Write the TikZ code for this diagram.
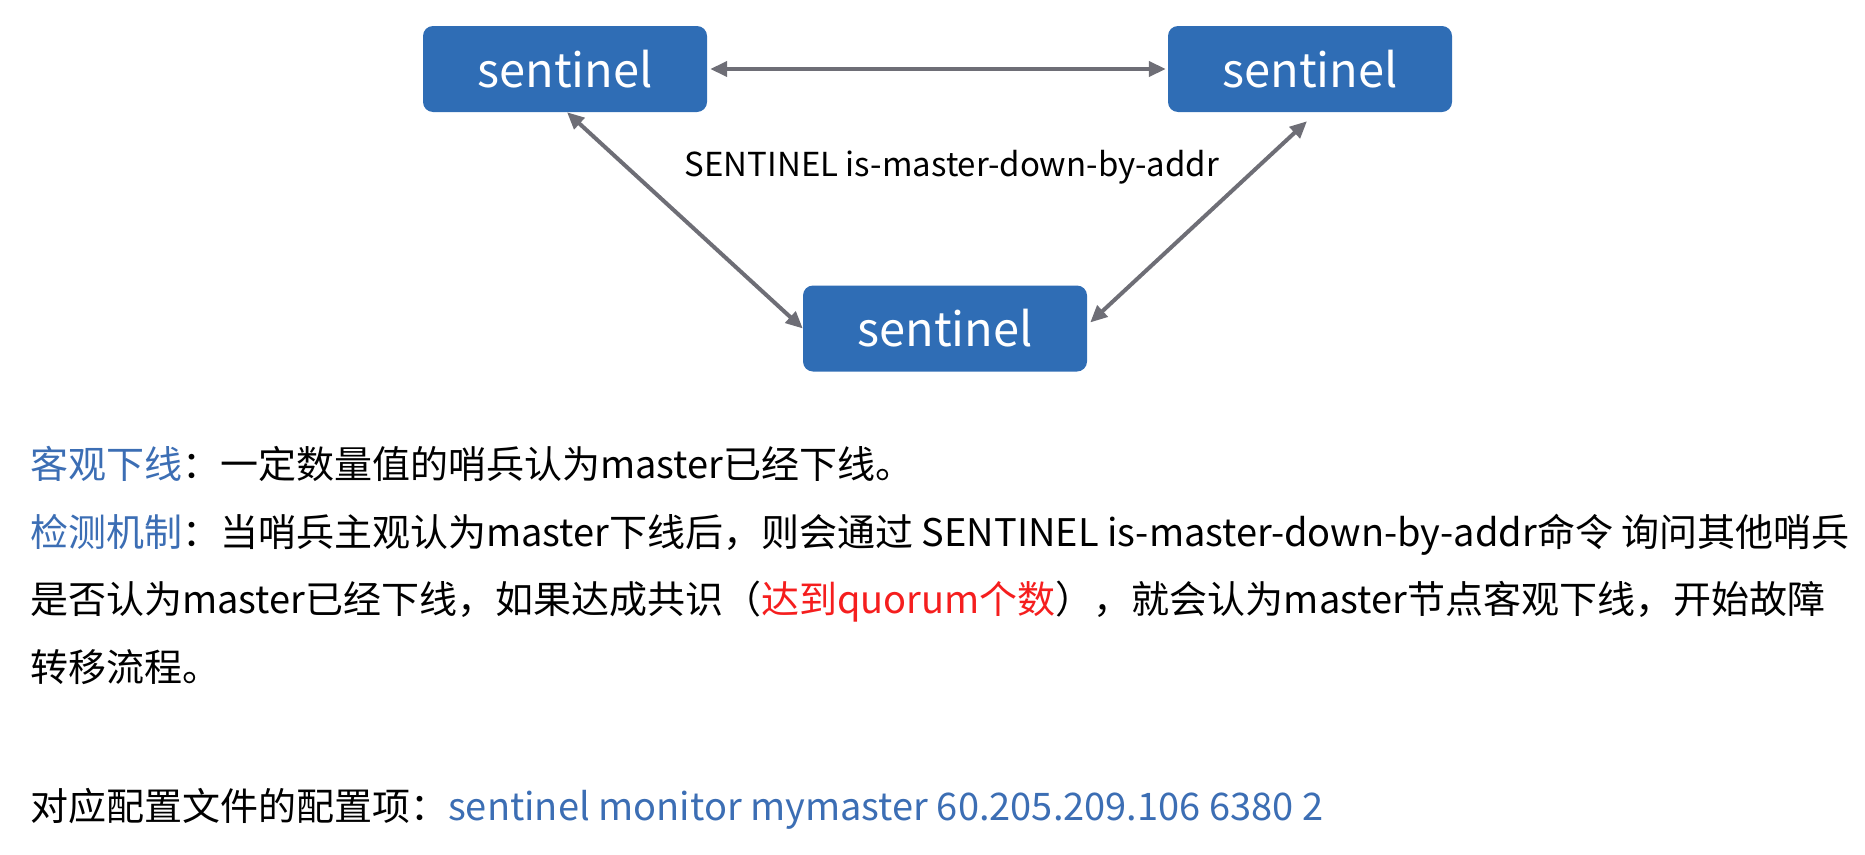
\documentclass[tikz,border=0pt]{standalone}
\usepackage{fontspec}
\setmainfont{Noto Sans CJK SC}
\usetikzlibrary{arrows.meta}

\definecolor{boxblue}{RGB}{47,109,181}
\definecolor{txtblue}{RGB}{60,110,180}
\definecolor{linkgray}{RGB}{110,110,118}
\definecolor{hotred}{RGB}{245,30,30}

\tikzset{
  sentbox/.style={fill=boxblue, rounded corners=10pt, inner sep=0pt,
    minimum width=284pt, minimum height=86pt, text=white,
    font=\fontsize{47}{54}\selectfont},
  link/.style={linkgray, line width=4pt,
    {Triangle[length=17pt,width=15pt]}-{Triangle[length=17pt,width=15pt]}},
  txt/.style={inner sep=0pt, font=\fontsize{38}{45}\selectfont},
  para/.style={txt, anchor=base west}
}

\begin{document}
\begin{tikzpicture}[x=1pt,y=-1pt]
  \useasboundingbox (0,0) rectangle (1865,854);

  % the three sentinels
  \node[sentbox] (s1) at (565,69) {sentinel};
  \node[sentbox] (s2) at (1310,69) {sentinel};
  \node[sentbox] (s3) at (945,328.5) {sentinel};

  \draw[link] ([xshift=3pt]s1.east) -- ([xshift=-2pt]s2.west);
  \draw[link] ([xshift=2pt]s1.south) -- (s3.west);
  \draw[link] ([xshift=-3pt,yshift=-9pt]s2.south) -- ([xshift=3pt,yshift=6pt]s3.east);

  \node[txt, font=\fontsize{33}{40}\selectfont, anchor=base] (cmd) at (952,176) {SENTINEL is-master-down-by-addr};

  % explanation
  \node[para] (l1) at (30,478) {\textcolor{txtblue}{客观下线}：一定数量值的哨兵认为master已经下线。};
  \node[para] (l2) at (30,546) {\textcolor{txtblue}{检测机制}：当哨兵主观认为master下线后，则会通过 SENTINEL is-master-down-by-addr命令 询问其他哨兵};
  \node[para] (l3) at (30,613) {是否认为master已经下线，如果达成共识（\textcolor{hotred}{达到quorum个数}），就会认为master节点客观下线，开始故障};
  \node[para] (l4) at (30,681) {转移流程。};

  \node[para] (cfg) at (30,820) {对应配置文件的配置项：\textcolor{txtblue}{sentinel monitor mymaster 60.205.209.106 6380 2}};
\end{tikzpicture}
\end{document}
